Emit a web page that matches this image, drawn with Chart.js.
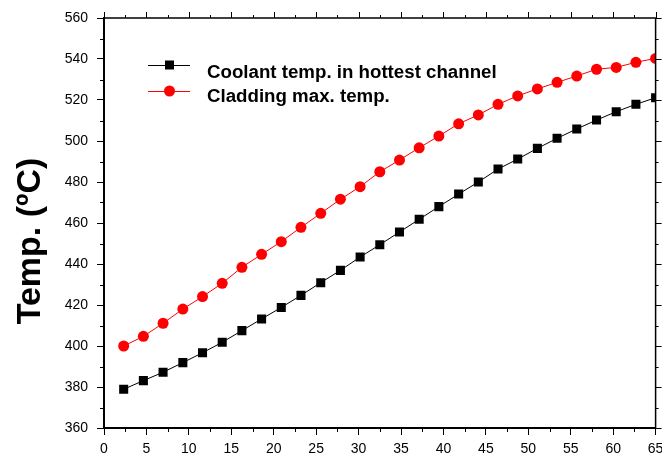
<!DOCTYPE html>
<html>
<head>
<meta charset="utf-8">
<script src="https://cdn.jsdelivr.net/npm/chart.js@4"></script>
<style>
  html, body { margin: 0; padding: 0; background: #ffffff; }
  #myChart { display: block; }
</style>
</head>
<body>
<canvas id="myChart" width="662" height="456"></canvas>
<script>
const xValues = [2.32, 4.64, 6.96, 9.29, 11.61, 13.93, 16.25, 18.57, 20.89, 23.21,
    25.54, 27.86, 30.18, 32.5, 34.82, 37.14, 39.46, 41.79, 44.11, 46.43,
    48.75, 51.07, 53.39, 55.71, 58.04, 60.36, 62.68, 65.0];

const coolantTemp = [378.9, 383.1, 387.2, 391.9, 396.7, 401.8, 407.5, 413.2, 418.8, 424.7,
    430.9, 436.9, 443.4, 449.4, 455.6, 461.8, 468.0, 474.1, 480.0, 486.3,
    491.2, 496.4, 501.3, 505.9, 510.2, 514.3, 517.9, 521.1];

const claddingTemp = [400.0, 404.7, 411.1, 418.0, 424.1, 430.6, 438.4, 444.7, 450.9, 457.9,
    464.7, 471.6, 477.7, 485.0, 490.7, 496.7, 502.4, 508.4, 512.7, 517.9,
    522.0, 525.4, 528.6, 531.7, 535.0, 535.9, 538.4, 540.3];

const seriesLabels = ["Coolant temp. in hottest channel", "Cladding max. temp."];
const yTitle = "Temp. (\u00baC)";

const FONT = "Arial, 'Liberation Sans', sans-serif";

// minor ticks, top/right frame, axis title and the legend drawn by hand
const framePlugin = {
    id: 'frame',
    afterDraw(chart) {
        const ctx = chart.ctx;
        const a = chart.chartArea;
        const xs = chart.scales.x;
        const ys = chart.scales.y;
        ctx.save();
        ctx.strokeStyle = '#000';
        ctx.lineWidth = 1.5;
        ctx.beginPath();
        ctx.moveTo(a.left, a.top);
        ctx.lineTo(a.right, a.top);
        ctx.lineTo(a.right, a.bottom);
        ctx.stroke();

        ctx.lineWidth = 1;
        ctx.beginPath();
        for (let v = 0; v <= 65; v += 2.5) {
            const px = Math.round(xs.getPixelForValue(v)) + 0.5;
            const major = v % 5 === 0;
            if (!major) {
                ctx.moveTo(px, a.bottom);
                ctx.lineTo(px, a.bottom + 4);
            }
            ctx.moveTo(px, a.top);
            ctx.lineTo(px, a.top - (major ? 6 : 3));
        }
        for (let v = 360; v <= 560; v += 10) {
            const py = Math.round(ys.getPixelForValue(v)) + 0.5;
            const major = v % 20 === 0;
            if (!major) {
                ctx.moveTo(a.left, py);
                ctx.lineTo(a.left - 4, py);
            }
            ctx.moveTo(a.right, py);
            ctx.lineTo(a.right + (major ? 6 : 3), py);
        }
        ctx.stroke();

        // y axis title
        ctx.save();
        ctx.translate(31, 241);
        ctx.rotate(-Math.PI / 2);
        ctx.font = "bold 34px " + FONT;
        ctx.textAlign = 'center';
        ctx.textBaseline = 'middle';
        ctx.fillStyle = '#000';
        ctx.fillText(yTitle, 0, 0);
        ctx.restore();

        // legend
        const rows = [
            { y: 65, ty: 73, color: '#000000', style: 'rect' },
            { y: 91, ty: 97, color: '#ff0000', style: 'circle' }
        ];
        ctx.font = "bold 18.7px " + FONT;
        ctx.textBaseline = 'middle';
        ctx.textAlign = 'left';
        rows.forEach((r, i) => {
            ctx.strokeStyle = r.color;
            ctx.lineWidth = 1;
            ctx.beginPath();
            ctx.moveTo(148, r.y + 0.5);
            ctx.lineTo(190, r.y + 0.5);
            ctx.stroke();
            ctx.fillStyle = r.color;
            if (r.style === 'rect') {
                ctx.fillRect(165, r.y - 4.5, 9, 9);
            } else {
                ctx.beginPath();
                ctx.arc(169.5, r.y, 5.5, 0, Math.PI * 2);
                ctx.fill();
            }
            ctx.fillStyle = '#000';
            ctx.fillText(seriesLabels[i], 207, r.ty);
        });
        ctx.restore();
    }
};

const chart = new Chart("myChart", {
    type: "line",
    plugins: [framePlugin],
    data: {
        datasets: [
            {
                label: seriesLabels[0],
                data: xValues.map((x, i) => ({ x: x, y: coolantTemp[i] })),
                borderColor: '#000000',
                backgroundColor: '#000000',
                borderWidth: 1,
                pointStyle: 'rect',
                pointRadius: 6.4,
                pointBorderWidth: 0,
                tension: 0
            },
            {
                label: seriesLabels[1],
                data: xValues.map((x, i) => ({ x: x, y: claddingTemp[i] })),
                borderColor: '#ff0000',
                backgroundColor: '#ff0000',
                borderWidth: 1,
                pointStyle: 'circle',
                pointRadius: 5.5,
                pointBorderWidth: 0,
                tension: 0
            }
        ]
    },
    options: {
        responsive: false,
        devicePixelRatio: 1,
        animation: false,
        layout: {
            padding: { left: 0, top: 18, right: 5, bottom: 0 }
        },
        plugins: {
            legend: { display: false },
            tooltip: { enabled: false }
        },
        scales: {
            x: {
                type: 'linear',
                min: 0,
                max: 65,
                afterFit(scale) {
                    scale.height = 28;
                    scale.paddingRight = 0;
                    scale.paddingLeft = 0;
                },
                ticks: {
                    stepSize: 5,
                    color: '#000',
                    padding: 6,
                    maxRotation: 0,
                    font: { family: FONT, size: 14 }
                },
                grid: {
                    drawOnChartArea: false,
                    drawTicks: true,
                    tickLength: 7,
                    color: '#000',
                    lineWidth: 1
                },
                border: { display: true, color: '#000', width: 2 }
            },
            y: {
                type: 'linear',
                min: 360,
                max: 560,
                afterFit(scale) {
                    scale.width = 104;
                },
                ticks: {
                    stepSize: 20,
                    color: '#000',
                    padding: 9,
                    font: { family: FONT, size: 14 }
                },
                grid: {
                    drawOnChartArea: false,
                    drawTicks: true,
                    tickLength: 7,
                    color: '#000',
                    lineWidth: 1
                },
                border: { display: true, color: '#000', width: 2 }
            }
        }
    }
});
</script>
</body>
</html>
